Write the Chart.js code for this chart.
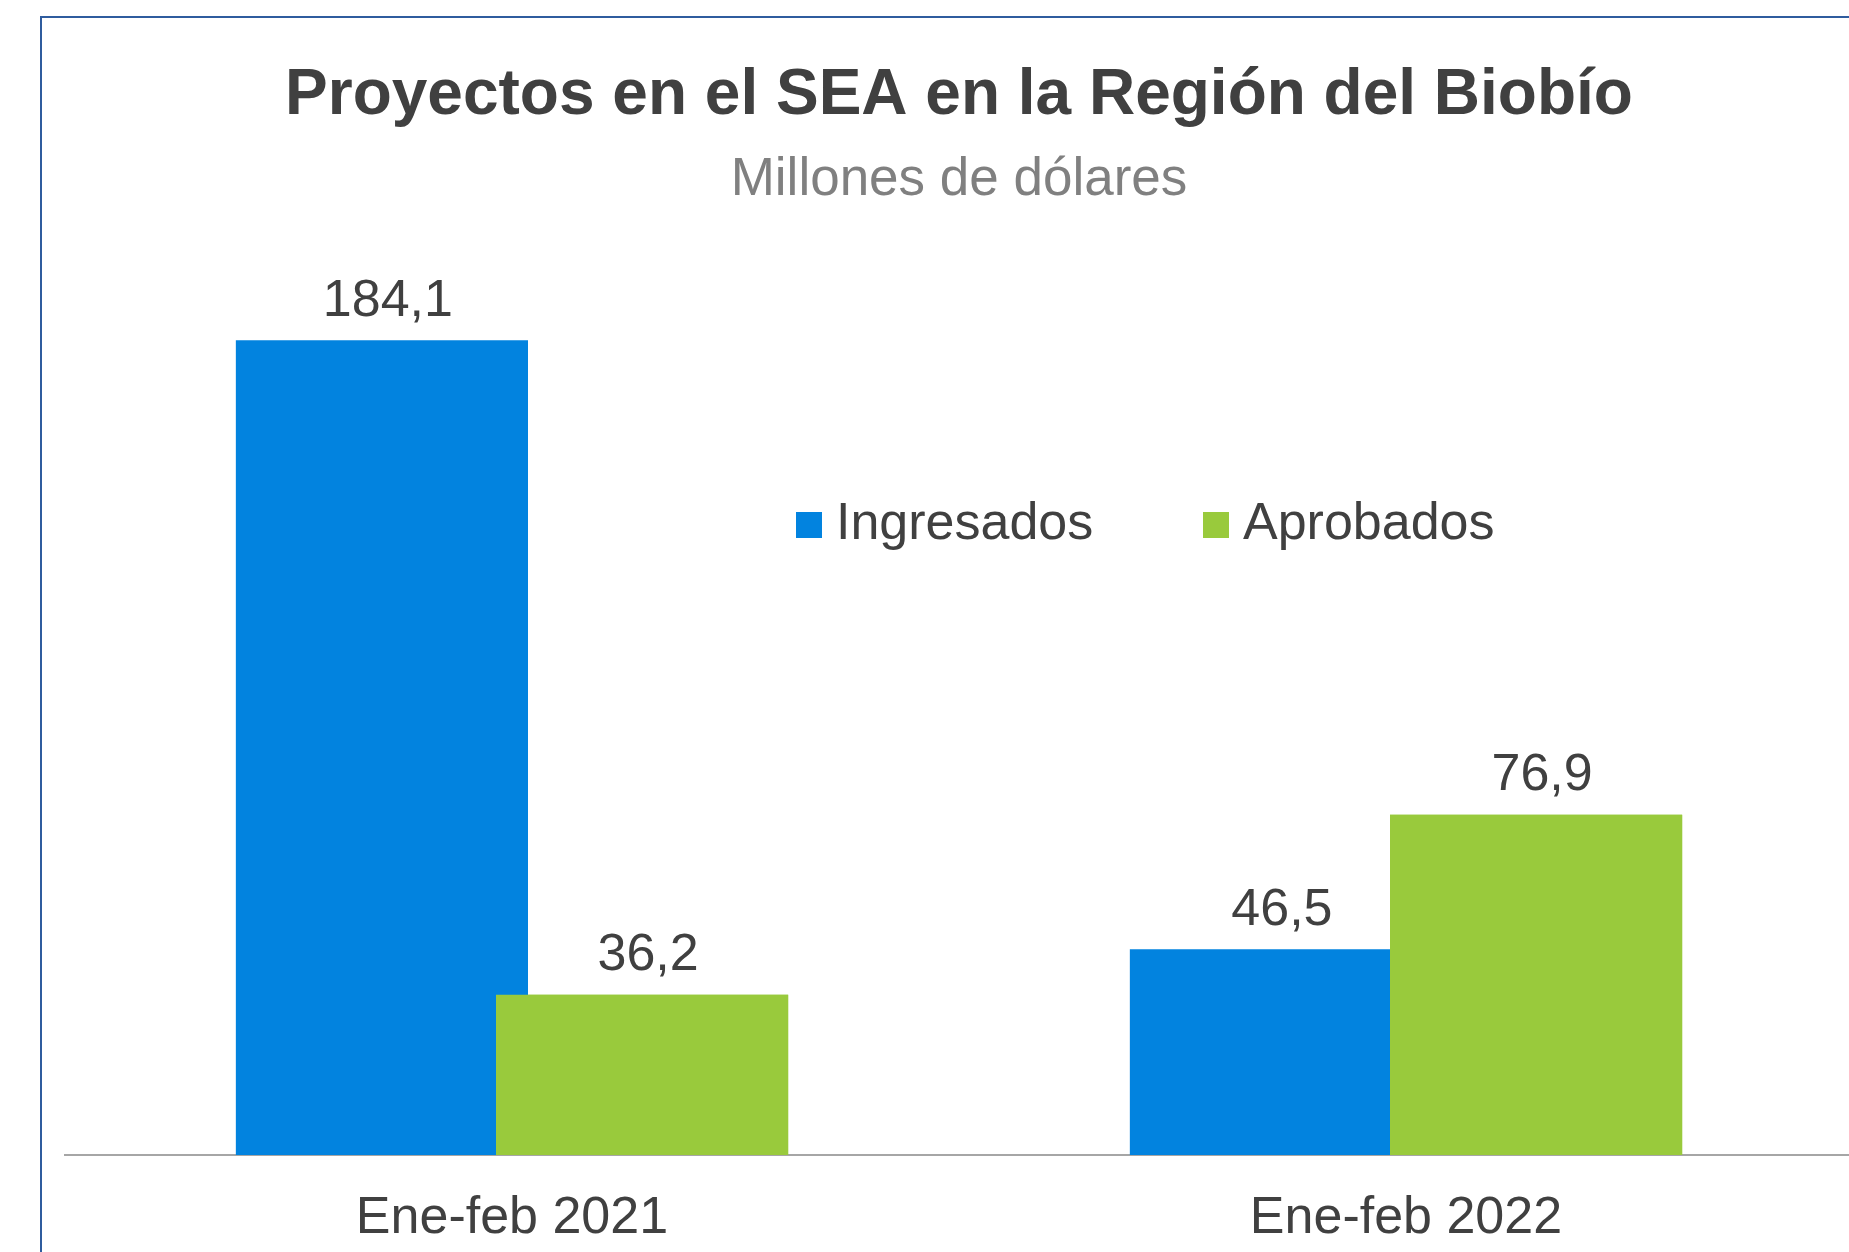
<!DOCTYPE html>
<html>
<head>
<meta charset="utf-8">
<script src="https://cdn.jsdelivr.net/npm/chart.js@4.4.1/dist/chart.umd.min.js"></script>
<style>
  html, body { margin: 0; padding: 0; background: #fff; overflow: hidden; width: 1849px; height: 1252px; }
  #frame { position: absolute; left: 40px; top: 16px; width: 1870px; height: 1300px; border: 2px solid #2f5c9e; }
  #chart { display: block; }
  .legend { position: absolute; top: 496px; font-family: "Liberation Sans", Arial, sans-serif; font-size: 52px; color: #404040; line-height: 50px; white-space: nowrap; }
  .legend span.box { display: inline-block; width: 26px; height: 26px; margin-right: 14px; vertical-align: 1px; }
</style>
</head>
<body>
<div id="frame">
  <canvas id="chart" width="1862" height="1274"></canvas>
</div>
<div class="legend" id="leg1" style="left:796px"><span class="box" style="background:#0283df"></span>Ingresados</div>
<div class="legend" id="leg2" style="left:1203px"><span class="box" style="background:#99ca3c"></span>Aprobados</div>
<script>
// chart values
const categories = ['Ene-feb 2021', 'Ene-feb 2022'];
const ingresados = [184.1, 46.5];
const aprobados = [36.2, 76.9];
const seriesNames = ['Ingresados', 'Aprobados'];

const blue = '#0283df';
const green = '#99ca3c';
const textColor = '#404040';

// green bars sit over the blue ones, then the value labels (decimal comma)
const valueLabels = {
    id: 'valueLabels',
    afterDatasetsDraw(chart) {
        const ctx = chart.ctx;
        // chart.js paints the first dataset on top; repaint the second one over it
        ctx.save();
        const area = chart.chartArea;
        ctx.beginPath();
        ctx.rect(area.left, area.top, area.right - area.left, area.bottom - area.top);
        ctx.clip();
        chart.getDatasetMeta(1).controller.draw();
        ctx.restore();

        ctx.save();
        ctx.font = '52px "Liberation Sans", Arial, sans-serif';
        ctx.fillStyle = textColor;
        ctx.textAlign = 'center';
        ctx.textBaseline = 'middle';
        chart.data.datasets.forEach((ds, i) => {
            chart.getDatasetMeta(i).data.forEach((bar, j) => {
                const txt = ds.data[j].toFixed(1).replace('.', ',');
                ctx.fillText(txt, bar.x + 6, bar.y - 39);
            });
        });
        ctx.restore();
    }
};

new Chart(document.getElementById('chart'), {
    type: 'bar',
    data: {
        labels: categories,
        datasets: [
            { label: seriesNames[0], data: ingresados, backgroundColor: blue, borderWidth: 0,
              categoryPercentage: 0.582, barPercentage: 1.123 },
            { label: seriesNames[1], data: aprobados, backgroundColor: green, borderWidth: 0,
              categoryPercentage: 0.582, barPercentage: 1.123 }
        ]
    },
    options: {
        responsive: false,
        animation: false,
        layout: { padding: { left: 23, right: 51, top: 0, bottom: 10.6 } },
        plugins: {
            legend: { display: false },
            tooltip: { enabled: false },
            title: {
                display: true,
                text: 'Proyectos en el SEA en la Región del Biobío',
                color: textColor,
                font: { family: '"Liberation Sans", Arial, sans-serif', size: 64, weight: 'bold', lineHeight: 1.2 },
                padding: { top: 39.6, bottom: 0 }
            },
            subtitle: {
                display: true,
                text: 'Millones de dólares',
                color: '#808080',
                font: { family: '"Liberation Sans", Arial, sans-serif', size: 53, weight: 'normal', lineHeight: 1.2 },
                padding: { top: 13.8, bottom: 58.2 }
            }
        },
        scales: {
            x: {
                grid: { display: false, drawTicks: false },
                border: { display: true, color: '#a6a6a6', width: 2 },
                ticks: {
                    color: textColor,
                    padding: 32,
                    font: { family: '"Liberation Sans", Arial, sans-serif', size: 52, lineHeight: 1.2 }
                }
            },
            y: {
                display: false,
                min: 0,
                max: 200
            }
        }
    },
    plugins: [valueLabels]
});
</script>
</body>
</html>
